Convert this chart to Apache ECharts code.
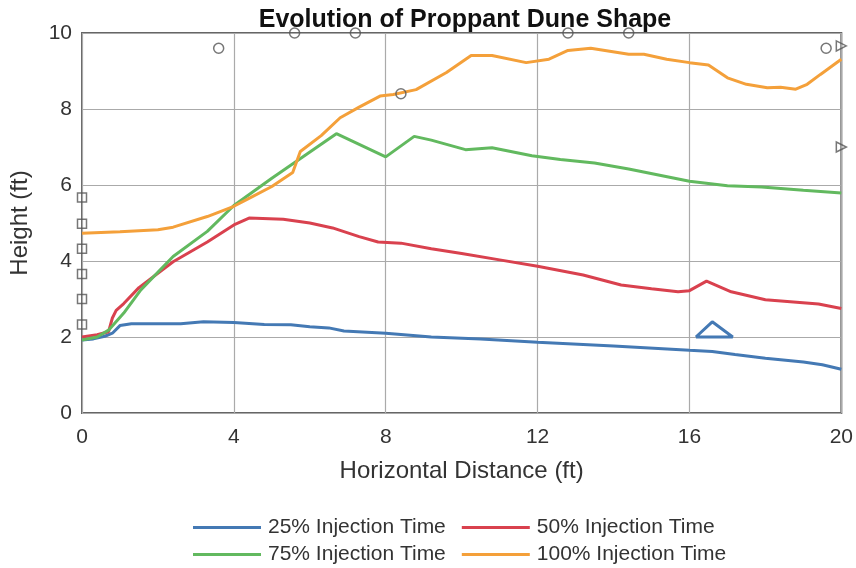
<!DOCTYPE html>
<html lang="en">
<head>
    <meta charset="UTF-8">
    <title>Evolution of Proppant Dune Shape</title>
    <style>
        html, body { margin: 0; padding: 0; background: #fff; }
        .dis { width: 856px; height: 568px; }
    </style>
    <script src="https://cdn.jsdelivr.net/npm/echarts@6/dist/echarts.min.js"></script>
</head>
<body>
<div class="dis"></div>
<script>
    // data, [x ft, height ft]
    var names = ["25% Injection Time", "50% Injection Time", "75% Injection Time", "100% Injection Time"];
    var colors = ["#4479b4", "#d9414e", "#62b95f", "#f4a03a"];

    var t25 = [[0,1.92],[0.3,1.95],[0.6,2.02],[0.8,2.1],[1.0,2.3],[1.3,2.35],[2.0,2.35],[2.6,2.35],[3.2,2.4],[4.0,2.38],
        [4.8,2.33],[5.5,2.32],[6.0,2.27],[6.5,2.24],[6.9,2.16],[8.0,2.1],[9.2,2.0],[10.5,1.95],[12,1.86],[14,1.76],
        [16,1.65],[16.6,1.62],[17.2,1.54],[18,1.44],[19,1.34],[19.5,1.27],[20,1.15]];
    var t50 = [[0,2.0],[0.4,2.06],[0.7,2.14],[0.8,2.5],[0.9,2.7],[1.1,2.88],[1.5,3.3],[2.4,3.98],[3.3,4.5],[4.0,4.95],
        [4.4,5.13],[5.3,5.1],[6.0,5.0],[6.6,4.87],[7.3,4.64],[7.8,4.5],[8.4,4.47],[9.2,4.32],[10,4.2],[11,4.03],
        [12,3.86],[13.2,3.63],[13.7,3.5],[14.2,3.37],[15,3.27],[15.7,3.19],[16,3.22],[16.45,3.47],[17.1,3.19],
        [18,2.98],[19.4,2.87],[20,2.75]];
    var t75 = [[0,1.92],[0.4,2.0],[0.7,2.18],[1.1,2.63],[1.55,3.24],[2.4,4.12],[3.3,4.78],[4.0,5.46],[5.0,6.18],
        [5.64,6.62],[6.7,7.35],[8.0,6.74],[8.75,7.28],[9.2,7.18],[10.1,6.93],[10.8,6.98],[11.85,6.77],[12.6,6.67],
        [13.5,6.58],[14.4,6.42],[16,6.1],[17,5.98],[17.9,5.95],[19,5.86],[20,5.79]];
    var t100 = [[0,4.73],[1.0,4.77],[2.0,4.82],[2.4,4.89],[3.3,5.17],[4.0,5.44],[4.5,5.7],[5.0,5.96],[5.55,6.33],
        [5.75,6.88],[6.3,7.3],[6.8,7.77],[7.3,8.05],[7.85,8.34],[8.2,8.38],[8.8,8.51],[9.6,8.96],[10.25,9.41],
        [10.8,9.41],[11.7,9.22],[12.3,9.31],[12.8,9.54],[13.4,9.6],[14.4,9.44],[14.8,9.44],[15.4,9.31],[16,9.22],
        [16.5,9.16],[17.0,8.82],[17.5,8.65],[18.05,8.56],[18.4,8.57],[18.8,8.52],[19.1,8.65],[19.45,8.91],[20,9.31]];

    // little outline near x=16.6
    var blueTri = [[16.17,2.0],[16.6,2.4],[17.14,2.0],[16.17,2.0]];

    // open markers
    var circles = [[3.6,9.6],[5.6,10],[7.2,10],[8.4,8.4],[12.8,10],[14.4,10],[19.6,9.6]];
    var squares = [[0,5.67],[0,4.98],[0,4.32],[0,3.66],[0,3.0],[0,2.33]];
    var triangles = [[20,9.66],[20,7.0]];

    var xTicks = [0, 20, 4];   // min, max, step
    var yTicks = [0, 10, 2];

    var chart = echarts.init(document.getElementsByClassName("dis")[0]);

    var lineData = [t25, t50, t75, t100];
    var series = [];
    for (var i = 0; i < lineData.length; i++) {
        series.push({
            name: names[i],
            type: "line",
            data: lineData[i],
            showSymbol: false,
            symbol: "none",
            lineStyle: { width: 3, color: colors[i] },
            itemStyle: { color: colors[i] },
            z: 3
        });
    }
    series.push({
        type: "line", data: blueTri, showSymbol: false, symbol: "none", silent: true,
        lineStyle: { width: 3, color: colors[0] }, z: 3
    });
    var markerStyle = { color: "rgba(255,255,255,0)", borderColor: "#555", borderWidth: 1.5 };
    series.push({ type: "scatter", data: circles, symbol: "circle", symbolSize: 10, clip: false, itemStyle: markerStyle, z: 4 });
    series.push({ type: "scatter", data: squares, symbol: "rect", symbolSize: 9, clip: false, itemStyle: markerStyle, z: 4 });
    series.push({ type: "scatter", data: triangles, symbol: "triangle", symbolRotate: -90, symbolSize: 10, clip: false, itemStyle: markerStyle, z: 4 });

    var legendBase = {
        left: 188,
        icon: "rect",
        itemWidth: 68,
        itemHeight: 3,
        itemGap: 16,
        textStyle: { fontSize: 21, color: "#333", fontFamily: "Liberation Sans", padding: [0, 0, 0, 2] }
    };

    var option = {
        animation: false,
        backgroundColor: "#fff",
        title: {
            text: "Evolution of Proppant Dune Shape",
            left: 460,
            textAlign: "center",
            top: 3,
            textStyle: { fontSize: 25, fontWeight: "bold", color: "#111", fontFamily: "Liberation Sans" }
        },
        legend: [
            Object.assign({}, legendBase, { top: 512, data: [names[0], names[1]] }),
            Object.assign({}, legendBase, { top: 539, data: [names[2], names[3]] })
        ],
        grid: {
            left: 75, right: 14, top: 33, bottom: 155,
            show: true, borderColor: "#666", borderWidth: 2,
            containLabel: false
        },
        xAxis: {
            type: "value",
            min: xTicks[0], max: xTicks[1], interval: xTicks[2],
            name: "Horizontal Distance (ft)",
            nameLocation: "middle",
            nameGap: 46,
            nameTextStyle: { fontSize: 24, color: "#333", fontFamily: "Liberation Sans" },
            axisLine: { show: false },
            axisTick: { show: false },
            axisLabel: { fontSize: 21, color: "#333", margin: 14, fontFamily: "Liberation Sans" },
            splitLine: { show: true, lineStyle: { color: "#aaa", width: 1.2 } }
        },
        yAxis: {
            type: "value",
            min: yTicks[0], max: yTicks[1], interval: yTicks[2],
            name: "Height (ft)",
            nameLocation: "middle",
            nameGap: 50,
            nameTextStyle: { fontSize: 24, color: "#333", fontFamily: "Liberation Sans" },
            axisLine: { show: false },
            axisTick: { show: false },
            axisLabel: { fontSize: 21, color: "#333", margin: 10, fontFamily: "Liberation Sans" },
            splitLine: { show: true, lineStyle: { color: "#aaa", width: 1.2 } }
        },
        series: series
    };

    chart.setOption(option);
</script>
</body>
</html>
